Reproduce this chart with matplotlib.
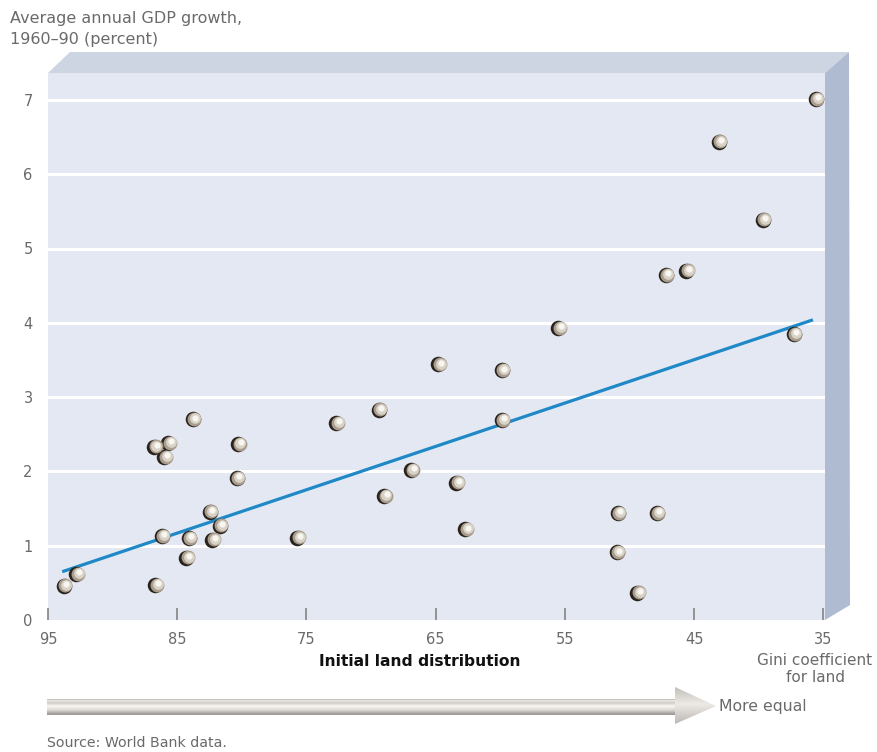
"""
    Land inequality vs. growth: scatter of Gini coefficient for land against
    average annual GDP growth, 1960-90, drawn on a shaded box with a fitted line.
"""
import numpy as np
import matplotlib
matplotlib.use('Agg')
import matplotlib.pyplot as plt
from matplotlib.patches import Polygon
from matplotlib.transforms import offset_copy

# Gini coefficient for land (x) and average annual GDP growth, percent (y)
gini = [93.8, 92.8, 86.7, 86.2, 86.8, 85.7, 86.0, 83.8, 84.1, 84.3,
        82.5, 82.3, 81.7, 80.3, 80.4, 75.7, 72.7, 69.4, 69.0, 66.9,
        64.8, 63.4, 62.7, 59.9, 59.9, 55.5, 50.9, 51.0, 49.4, 47.9,
        47.2, 45.6, 43.1, 39.7, 37.3, 35.6]
growth = [0.46, 0.62, 0.47, 1.13, 2.33, 2.38, 2.19, 2.70, 1.10, 0.84,
          1.46, 1.08, 1.27, 2.37, 1.91, 1.11, 2.65, 2.83, 1.67, 2.02,
          3.44, 1.85, 1.22, 3.36, 2.69, 3.93, 1.44, 0.91, 0.37, 1.44,
          4.64, 4.70, 6.44, 5.39, 3.85, 7.01]

# ends of the fitted regression line
fit_x = [93.9, 35.8]
fit_y = [0.65, 4.04]

xticks = [95, 85, 75, 65, 55, 45, 35]
yticks = [0, 1, 2, 3, 4, 5, 6, 7]

W, H = 877, 752
L, R, T, B = 48, 825, 73, 620     # front face of the box, pixels

FRONT = '#e4e8f3'
TOP = '#cdd5e3'
SIDE = '#aebbd0'
GREY = '#6a6a6a'
FONT = ['DejaVu Sans']

plt.rcParams['font.family'] = FONT

fig = plt.figure(figsize=(W / 100, H / 100), dpi=100)

# overlay in pixel units for the box sides, arrow and free text
ov = fig.add_axes([0, 0, 1, 1])
ov.set_xlim(0, W)
ov.set_ylim(H, 0)
ov.axis('off')

ov.add_patch(Polygon([(L, T), (L + 22, T - 21), (R + 24, T - 21), (R, T)],
                     closed=True, facecolor=TOP, edgecolor='none'))
ov.add_patch(Polygon([(R, T), (R + 24, T - 21), (R + 25, B - 15), (R, B)],
                     closed=True, facecolor=SIDE, edgecolor='none'))

ax = fig.add_axes([L / W, 1 - B / H, (R - L) / W, (B - T) / H])
ax.set_facecolor(FRONT)
for s in ax.spines.values():
    s.set_visible(False)

pxu = (823.3 - 48) / 60.0
ax.set_xlim(95, 35 - (R - 823.3) / pxu)
ax.set_ylim(0, (B - T) / 74.3)

for v in yticks[1:]:
    ax.axhline(v, color='white', lw=2.2, zorder=1)

ax.set_xticks(xticks)
ax.set_yticks(yticks)
ax.tick_params(axis='x', direction='in', length=8.5, width=1.3, color='#8c8c8c',
               pad=9, labelsize=10.5, labelcolor=GREY)
ax.tick_params(axis='y', length=0, pad=11, labelsize=10.5, labelcolor=GREY)

ax.plot(fit_x, fit_y, color='#1f88c6', lw=2.3, solid_capstyle='butt', zorder=3)

# shaded spheres: dark base, then lighter discs nudged to the right
layers = [(0, 0, 125, '#2a221c'),
          (1.6, 0.4, 100, '#a89d8e'),
          (2.4, 0.9, 60, '#d9d2c6'),
          (2.6, 1.8, 20, '#f8f6f1')]
for dx, dy, size, col in layers:
    tr = offset_copy(ax.transData, fig=fig, x=dx, y=dy, units='dots')
    ax.scatter(gini, growth, s=size, color=col, linewidths=0, transform=tr,
               zorder=4)

# axis captions
ov.text(10, 29, 'Average annual GDP growth,\n1960\u201390 (percent)', fontsize=11.5,
        color=GREY, ha='left', va='center', linespacing=1.45)
ov.text(420, 662, 'Initial land distribution', fontsize=11.2, fontweight='bold',
        color='#111111', ha='center', va='center')
ov.text(815, 669, 'Gini coefficient\nfor land', fontsize=11, color=GREY,
        ha='center', va='center', linespacing=1.1)
ov.text(719, 706, 'More equal', fontsize=11.3, color=GREY, ha='left', va='center')
ov.text(47, 743, 'Source: World Bank data.', fontsize=10.2, color=GREY,
        ha='left', va='center')

# tube-shaded arrow along the bottom
ax0, ax1, hx = 47, 716, 675
ay0, ay1 = 687, 724
shaft = (699, 715)
arrow = Polygon([(ax0, shaft[0]), (hx, shaft[0]), (hx, ay0), (ax1, 706),
                 (hx, ay1), (hx, shaft[1]), (ax0, shaft[1])], closed=True,
                facecolor='none', edgecolor='none')
ov.add_patch(arrow)

ys = np.arange(ay0, ay1) + 0.5
stripes = [(699, 0.62), (700, 0.93), (703, 0.82), (706, 0.98), (710, 0.86),
           (714, 0.62)]
shaft_col = np.interp(ys, [p for p, _ in stripes], [c for _, c in stripes])
head_col = 0.93 - 0.2 * np.abs(ys - 704) / 20.0
xs = np.arange(ax0, ax1) + 0.5
img = np.where(xs[None, :] < hx, shaft_col[:, None], head_col[:, None])
rgb = np.dstack([img, img * 0.985, img * 0.965])
im = ov.imshow(rgb, extent=(ax0, ax1, ay1, ay0), interpolation='bilinear',
               aspect='auto', zorder=2)
im.set_clip_path(arrow)

fig.savefig('out.png', dpi=100)
